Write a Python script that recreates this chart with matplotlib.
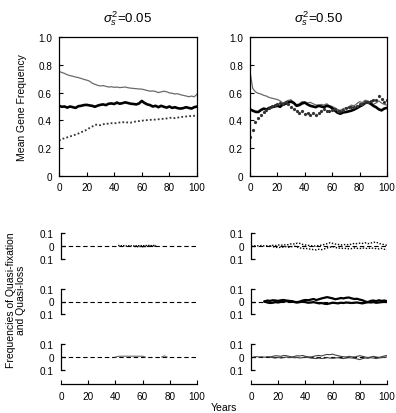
import numpy as np
import matplotlib
matplotlib.use("Agg")
import matplotlib.pyplot as plt

plt.rcParams['font.family'] = ['Liberation Sans', 'DejaVu Sans']
plt.rcParams['mathtext.fontset'] = 'custom'
plt.rcParams['mathtext.rm'] = 'Liberation Sans'
plt.rcParams['mathtext.it'] = 'Liberation Sans:italic'

nan = np.nan
years = np.arange(0, 101, 2)

titles = [r'$\sigma_s^2$=0.05', r'$\sigma_s^2$=0.50']
xticks = [0, 20, 40, 60, 80, 100]
yticks_top = [0, 0.2, 0.4, 0.6, 0.8, 1.0]
ytick_labels_top = ['0', '0.2', '0.4', '0.6', '0.8', '1.0']
strip_ticks = [-0.1, 0, 0.1]
strip_tick_labels = ['0.1', '0', '0.1']

# ---- top panels: mean gene frequency ----
tl_gray = [0.752, 0.745, 0.738, 0.728, 0.722, 0.718, 0.712, 0.708, 0.702, 0.695,
           0.690, 0.683, 0.668, 0.660, 0.652, 0.648, 0.650, 0.645, 0.640, 0.642,
           0.638, 0.640, 0.636, 0.638, 0.640, 0.635, 0.632, 0.630, 0.628, 0.626,
           0.625, 0.620, 0.615, 0.610, 0.612, 0.608, 0.600, 0.605, 0.610, 0.606,
           0.598, 0.595, 0.590, 0.592, 0.585, 0.580, 0.576, 0.570, 0.575, 0.570, 0.588]
tl_black = [0.505, 0.498, 0.500, 0.492, 0.500, 0.495, 0.490, 0.502, 0.505, 0.510,
            0.512, 0.508, 0.505, 0.498, 0.506, 0.512, 0.515, 0.510, 0.520, 0.522,
            0.518, 0.528, 0.520, 0.524, 0.530, 0.525, 0.520, 0.518, 0.515, 0.522,
            0.540, 0.525, 0.515, 0.510, 0.500, 0.505, 0.495, 0.505, 0.498, 0.492,
            0.500, 0.490, 0.495, 0.488, 0.485, 0.488, 0.495, 0.490, 0.485, 0.495, 0.500]
tl_dot = [0.255, 0.265, 0.272, 0.278, 0.285, 0.290, 0.298, 0.305, 0.315, 0.322,
          0.332, 0.345, 0.355, 0.368, 0.370, 0.365, 0.372, 0.378, 0.375, 0.380,
          0.378, 0.382, 0.385, 0.388, 0.383, 0.386, 0.384, 0.390, 0.392, 0.395,
          0.398, 0.400, 0.402, 0.404, 0.405, 0.406, 0.408, 0.410, 0.412, 0.414,
          0.418, 0.420, 0.416, 0.420, 0.424, 0.426, 0.428, 0.430, 0.432, 0.433, 0.435]

tr_gray = [0.750, 0.630, 0.605, 0.595, 0.590, 0.580, 0.575, 0.565, 0.560, 0.555,
           0.550, 0.540, 0.525, 0.535, 0.545, 0.548, 0.530, 0.512, 0.520, 0.535,
           0.532, 0.525, 0.530, 0.520, 0.512, 0.508, 0.515, 0.510, 0.520, 0.505,
           0.500, 0.490, 0.478, 0.472, 0.485, 0.490, 0.495, 0.510, 0.505, 0.520,
           0.535, 0.528, 0.545, 0.540, 0.530, 0.515, 0.525, 0.540, 0.525, 0.515, 0.510]
tr_black = [0.480, 0.470, 0.462, 0.460, 0.475, 0.485, 0.478, 0.490, 0.495, 0.500,
            0.505, 0.498, 0.515, 0.520, 0.530, 0.535, 0.525, 0.505, 0.510, 0.522,
            0.528, 0.515, 0.505, 0.500, 0.495, 0.505, 0.500, 0.495, 0.505, 0.500,
            0.488, 0.470, 0.455, 0.448, 0.458, 0.460, 0.465, 0.470, 0.478, 0.488,
            0.500, 0.510, 0.525, 0.530, 0.520, 0.505, 0.495, 0.480, 0.472, 0.485, 0.490]
tr_dot = [0.280, 0.330, 0.390, 0.420, 0.440, 0.460, 0.475, 0.490, 0.505, 0.510,
          0.520, 0.525, 0.515, 0.530, 0.520, 0.500, 0.485, 0.465, 0.455, 0.470,
          0.445, 0.455, 0.440, 0.450, 0.440, 0.455, 0.470, 0.480, 0.465, 0.470,
          0.475, 0.480, 0.470, 0.465, 0.475, 0.490, 0.500, 0.495, 0.500, 0.505,
          0.515, 0.520, 0.530, 0.535, 0.540, 0.550, 0.550, 0.575, 0.555, 0.535, 0.545]

# ---- bottom strips: quasi-fixation (+) and quasi-loss (-) ----
# left column (sigma^2 = 0.05)
l1_years = [42, 44, 46, 48, 50, 52, 54, 56, 58, 60, 62, 64, 66, 68, 70]
l1_up = [0.004, 0.002, 0.003, 0.0, 0.002, 0.001, 0.0, 0.002, 0.003, 0.002, 0.003, 0.004, 0.003, 0.004, 0.003]
l1_down = [nan, nan, nan, nan, nan, nan, -0.003, -0.005, -0.004, -0.006, -0.004, -0.003, -0.002, -0.003, -0.001]
l3_years = [40, 42, 44, 46, 48, 50, 52, 54, 56, 58, 60, 62, 74, 76, 78]
l3_up = [0.0, 0.005, 0.006, 0.006, 0.006, 0.006, 0.006, 0.006, 0.006, 0.006, 0.006, 0.0, 0.0, 0.008, 0.0]

# right column (sigma^2 = 0.50)
r1_up = [0.0, 0.0, 0.003, 0.0, 0.005, 0.0, 0.002, 0.0, 0.005, 0.003,
         0.008, 0.005, 0.010, 0.008, 0.012, 0.018, 0.015, 0.022, 0.020, 0.012,
         0.008, 0.005, 0.002, 0.0, 0.0, 0.003, 0.008, 0.012, 0.018, 0.025,
         0.020, 0.015, 0.012, 0.008, 0.010, 0.012, 0.008, 0.015, 0.020, 0.018,
         0.022, 0.020, 0.025, 0.018, 0.022, 0.028, 0.030, 0.020, 0.015, 0.010, 0.005]
r1_down = [nan, nan, nan, nan, nan, nan, nan, 0.0, -0.005, -0.010,
           -0.012, -0.010, -0.008, -0.005, -0.010, -0.005, -0.002, -0.008, -0.015, -0.020,
           -0.018, -0.022, -0.025, -0.028, -0.030, -0.025, -0.028, -0.022, -0.015, -0.010,
           -0.005, -0.010, -0.018, -0.015, -0.020, -0.018, -0.022, -0.020, -0.015, -0.018,
           -0.020, -0.015, -0.018, -0.020, -0.015, -0.018, -0.020, -0.022, -0.018, -0.025, -0.028]
r2_up = [nan, nan, nan, nan, nan, 0.0, 0.008, 0.005, 0.010, 0.008,
         0.005, 0.010, 0.012, 0.008, 0.005, 0.003, -0.003, -0.005, 0.0, 0.008,
         0.012, 0.010, 0.015, 0.020, 0.012, 0.018, 0.025, 0.030, 0.035, 0.030,
         0.025, 0.018, 0.022, 0.028, 0.025, 0.030, 0.032, 0.025, 0.020, 0.022,
         0.015, 0.010, 0.0, -0.005, 0.005, 0.008, 0.003, 0.010, 0.005, 0.008, 0.003]
r2_down = [nan, nan, nan, nan, nan, 0.0, -0.008, -0.012, -0.010, -0.005,
           -0.008, -0.003, 0.0, 0.002, 0.003, 0.0, -0.005, -0.008, -0.005, 0.0,
           -0.005, -0.010, -0.008, -0.005, -0.010, -0.015, -0.012, -0.018, -0.020, -0.015,
           -0.010, -0.012, -0.015, -0.010, -0.012, -0.008, -0.010, -0.012, -0.010, -0.008,
           -0.012, -0.015, -0.010, -0.005, -0.008, -0.005, -0.010, -0.008, -0.005, -0.003, -0.005]
r3_up = [nan, 0.0, 0.003, 0.0, 0.002, -0.002, 0.003, 0.0, 0.005, 0.010,
         0.008, 0.005, 0.012, 0.010, 0.005, 0.0, 0.005, 0.010, 0.008, 0.012,
         0.005, 0.002, 0.0, 0.005, 0.010, 0.012, 0.008, 0.015, 0.020, 0.018,
         0.022, 0.015, 0.010, 0.005, 0.002, 0.0, 0.005, 0.002, 0.0, 0.005,
         0.010, 0.005, 0.0, -0.005, 0.0, 0.005, 0.0, -0.003, 0.002, 0.008, 0.012]
r3_down = [nan, nan, nan, nan, nan, nan, nan, 0.0, -0.005, -0.008,
           -0.003, -0.008, -0.005, 0.0, -0.005, -0.002, -0.006, -0.003, -0.008, -0.005,
           0.0, -0.004, -0.008, -0.010, -0.012, -0.008, -0.012, -0.010, -0.005, -0.008,
           -0.010, -0.008, -0.005, -0.010, -0.012, -0.008, -0.005, -0.008, -0.010, -0.015,
           -0.020, -0.012, -0.008, -0.010, -0.005, -0.008, -0.012, -0.008, -0.005, -0.002, 0.0]

W, H = 396.0, 414.0
fig = plt.figure(figsize=(W / 100, H / 100), dpi=100)


def px_axes(left, top, right, bottom):
    return fig.add_axes([left / W, 1 - bottom / H, (right - left) / W, (bottom - top) / H])


FS = 7.2
gray = '#6a6a6a'

# top panels
cols_top = [(59, 197), (250, 387)]
for i, (l, r) in enumerate(cols_top):
    ax = px_axes(l, 38, r, 177)
    if i == 0:
        ax.plot(years, tl_gray, color=gray, lw=0.9)
        ax.plot(years, tl_black, color='black', lw=1.9)
        ax.plot(years, tl_dot, color='#333333', lw=1.3, linestyle=(0, (1, 1.2)))
    else:
        ax.plot(years, tr_gray, color=gray, lw=0.9)
        ax.plot(years, tr_black, color='black', lw=1.9)
        ax.plot(years, tr_dot, color='#333333', lw=0, marker='o', ms=1.3)
    ax.set_xlim(0, 100)
    ax.set_ylim(0, 1.0)
    ax.set_xticks(xticks)
    ax.set_yticks(yticks_top)
    ax.set_yticklabels(ytick_labels_top)
    ax.tick_params(direction='in', length=3, width=0.8, labelsize=FS, pad=4)
    ax.tick_params(axis='y', pad=5)
    for s in ax.spines.values():
        s.set_linewidth(0.9)
    fig.text((l + r) / 2 / W, 1 - 23 / H, titles[i], ha='center', va='baseline', fontsize=9.5)

fig.text(22 / W, 1 - 108 / H, 'Mean Gene Frequency', rotation=90, ha='center', va='center', fontsize=7.5)

# bottom strips
strip_y = [(234, 260), (290, 315), (345, 371)]
cols_bot = [(61, 197), (251, 387)]
for c, (l, r) in enumerate(cols_bot):
    for k, (t, b) in enumerate(strip_y):
        ax = px_axes(l, t, r, b)
        ax.plot([0, 100], [0, 0], color='black', lw=0.8, linestyle=(0, (4, 2.5)))
        if c == 0:
            if k == 0:
                ax.plot(l1_years, l1_up, color='black', lw=1.0, linestyle=(0, (1, 0.8)))
                ax.plot(l1_years, l1_down, color='black', lw=1.0, linestyle=(0, (1, 0.8)))
            elif k == 2:
                ax.plot(l3_years[:12], l3_up[:12], color=gray, lw=0.8)
                ax.plot(l3_years[12:], l3_up[12:], color=gray, lw=0.8)
        else:
            if k == 0:
                ax.plot(years, r1_up, color='black', lw=1.0, linestyle=(0, (1, 1.2)))
                ax.plot(years, r1_down, color='black', lw=1.0, linestyle=(0, (1, 1.2)))
            elif k == 1:
                ax.plot(years, r2_up, color='black', lw=1.6)
                ax.plot(years, r2_down, color='black', lw=1.6)
            else:
                ax.plot(years, r3_up, color='#444444', lw=0.8)
                ax.plot(years, r3_down, color='#444444', lw=0.8)
        ax.set_xlim(0, 100)
        ax.set_ylim(-0.1, 0.1)
        for s in ['top', 'right', 'bottom']:
            ax.spines[s].set_visible(False)
        ax.spines['left'].set_linewidth(0.9)
        ax.set_xticks([])
        ax.set_yticks(strip_ticks)
        ax.set_yticklabels(strip_tick_labels)
        ax.tick_params(axis='y', direction='in', length=3, width=0.9, labelsize=FS, pad=5)
    # separate x axis
    axx = px_axes(l, 384, r, 385)
    axx.set_xlim(0, 100)
    axx.set_ylim(0, 1)
    for s in ['top', 'right', 'left']:
        axx.spines[s].set_visible(False)
    axx.spines['bottom'].set_linewidth(0.9)
    axx.set_yticks([])
    axx.set_xticks(xticks)
    axx.tick_params(axis='x', direction='in', length=3, width=0.8, labelsize=FS, pad=5)
    axx.patch.set_visible(False)

fig.text(16 / W, 1 - 300 / H, 'Frequencies of Quasi-fixation\nand Quasi-loss', rotation=90,
         ha='center', va='center', fontsize=7.5, linespacing=1.0)
fig.text(224 / W, 1 - 403 / H, 'Years', ha='center', va='top', fontsize=7.5)

fig.savefig('out.png', dpi=100)
